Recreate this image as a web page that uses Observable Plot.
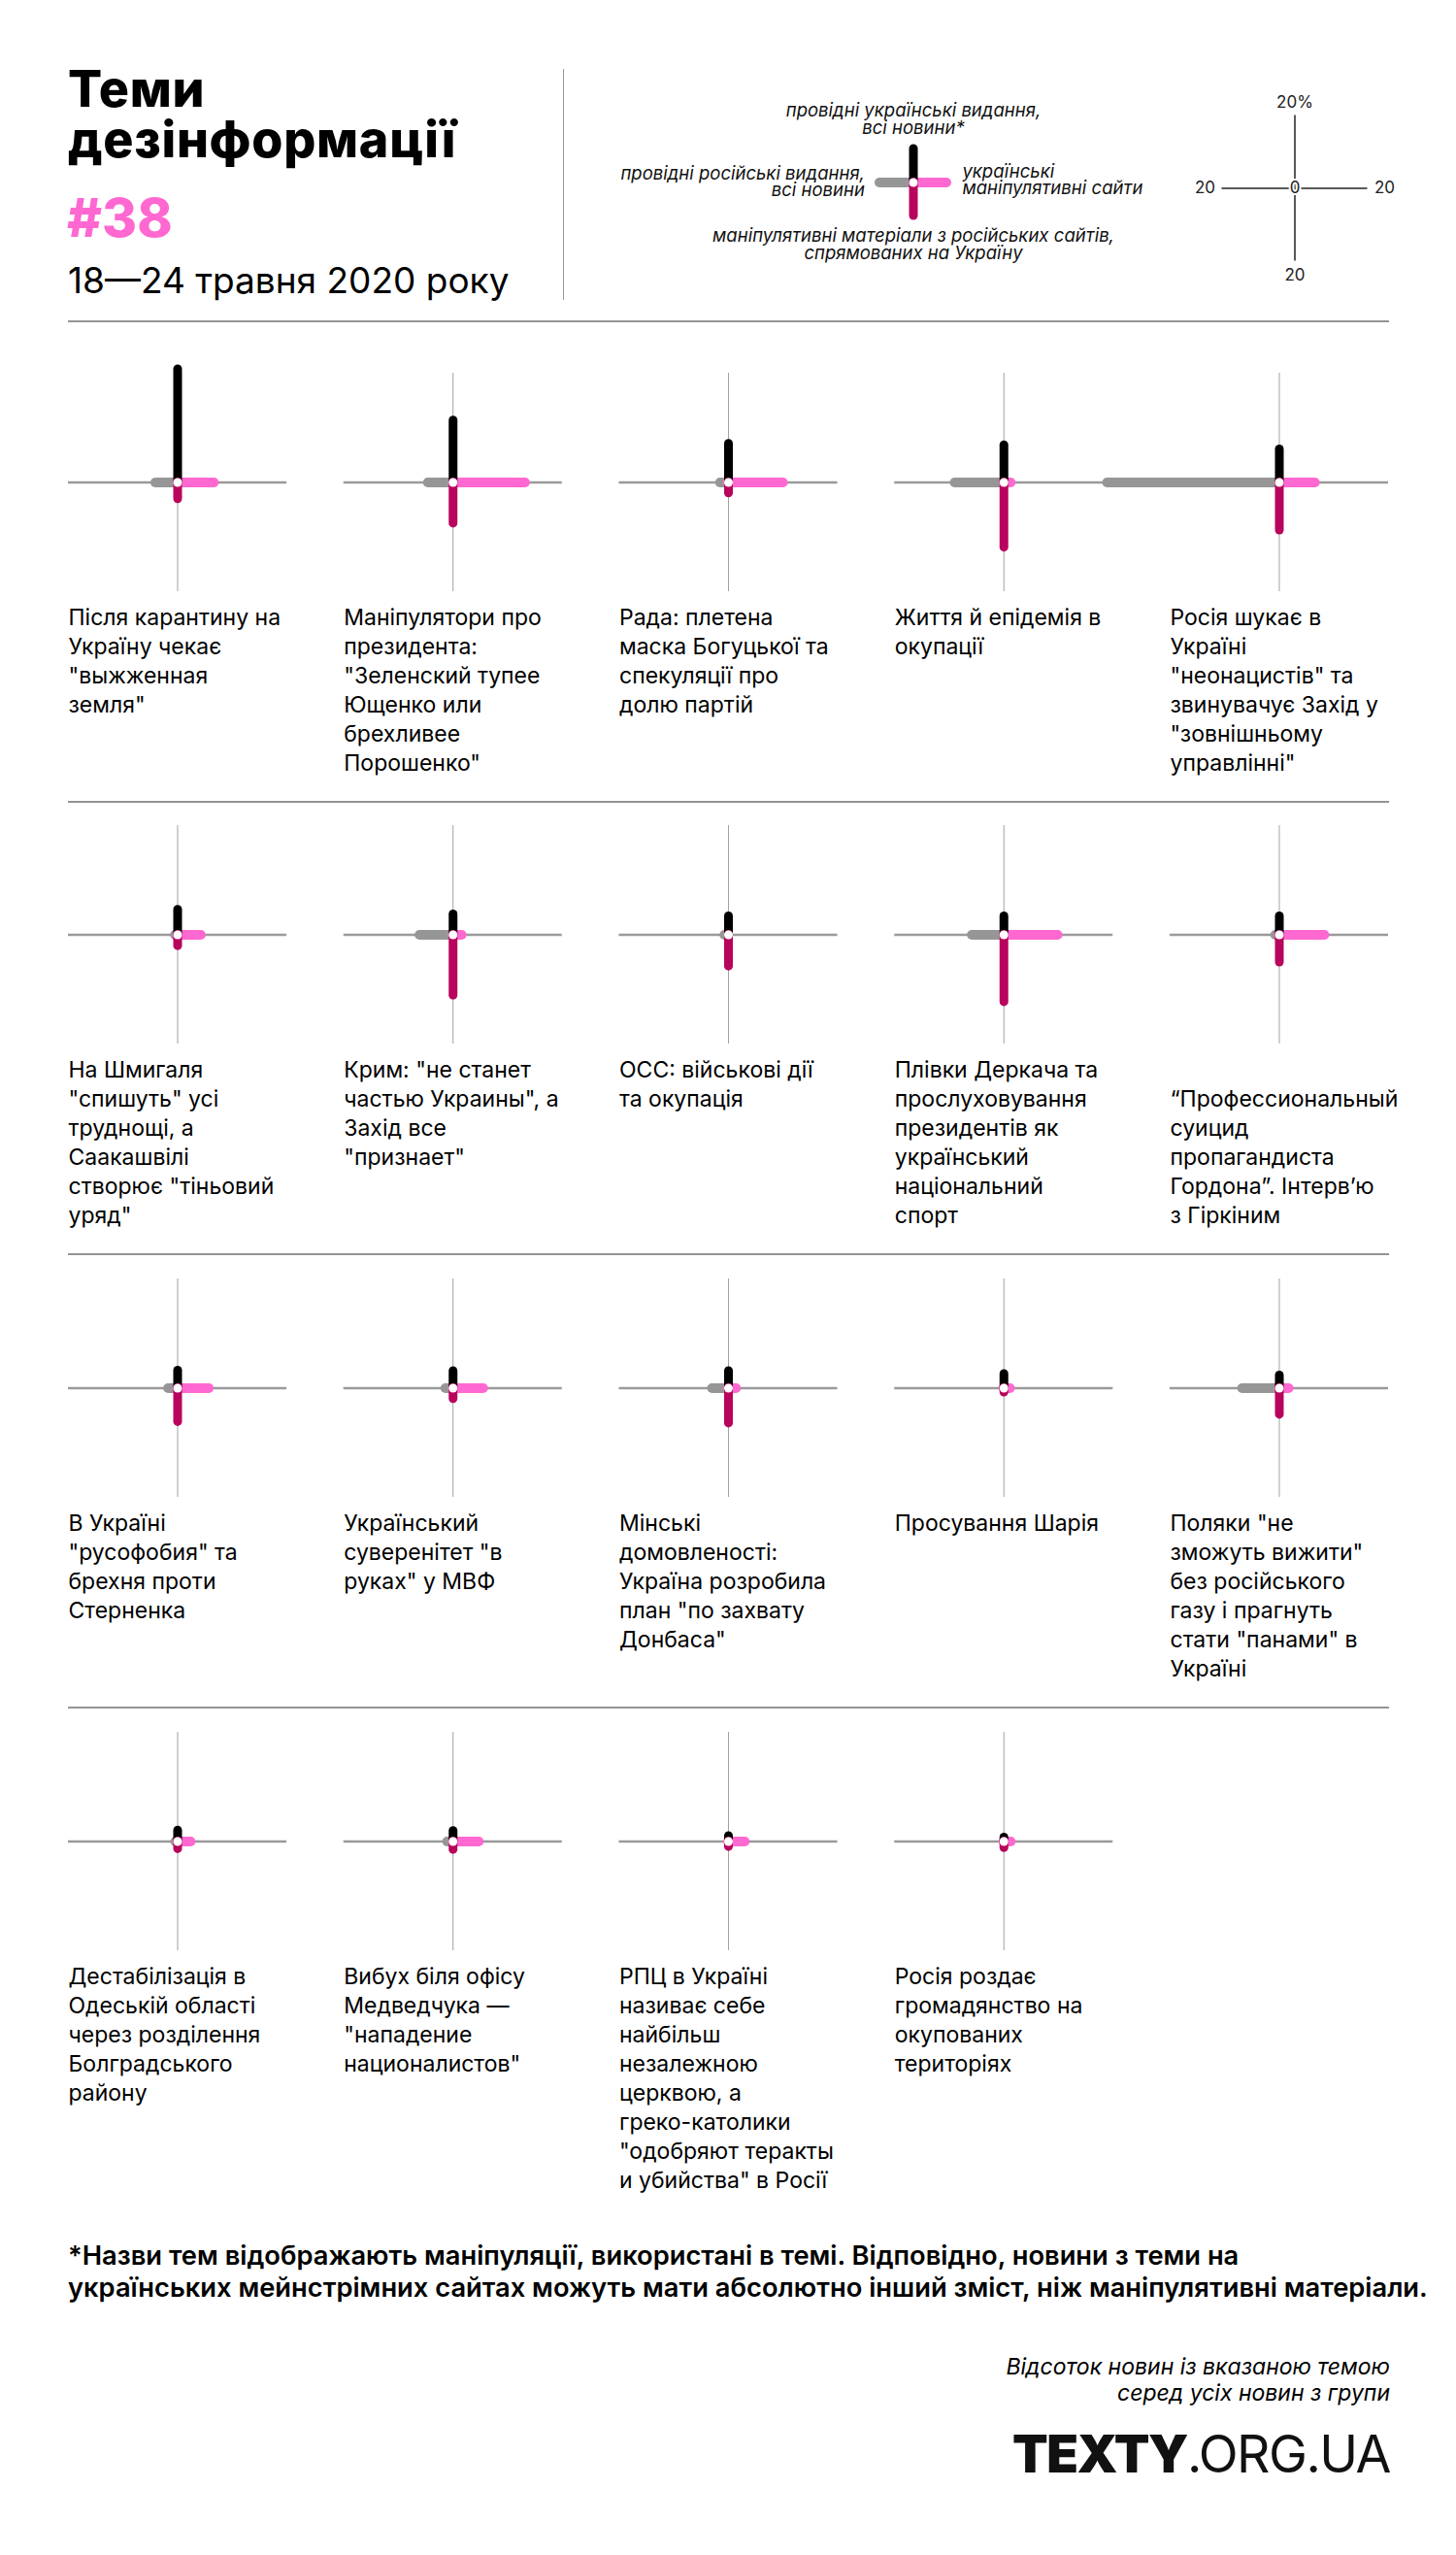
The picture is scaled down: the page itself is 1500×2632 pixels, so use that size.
<!DOCTYPE html>
<html lang="uk">
<head>
<meta charset="utf-8">
<script src="https://cdn.jsdelivr.net/npm/d3@7"></script>
<script src="https://cdn.jsdelivr.net/npm/@observablehq/plot@0.6"></script>
<style>
  html, body { margin: 0; padding: 0; background: #fff; }
  #page { position: relative; width: 1500px; height: 2632px; font-family: Inter, "Noto Sans", sans-serif; color: #000; overflow: hidden; }
  .abs { position: absolute; }
  .title { left: 70px; font-size: 52px; line-height: 52px; height: 52px; font-weight: 800; letter-spacing: 0.7px; white-space: nowrap; }
  .num { left: 69px; top: 196.5px; font-size: 55px; line-height: 55px; font-weight: 800; color: #ff68d0; }
  .date { left: 70px; top: 270px; font-size: 37px; line-height: 37px; font-weight: 400; white-space: nowrap; }
  .vsep { left: 580px; top: 71px; width: 1px; height: 238px; background: #999; }
  .rule { left: 70px; width: 1361px; height: 2px; background: #949494; }
  .foot { left: 70px; top: 2306.5px; font-size: 27.3px; line-height: 33px; font-weight: 600; white-space: nowrap; }
  .cap { right: 68px; top: 2425px; font-size: 23px; line-height: 27px; font-style: italic; text-align: right; white-space: nowrap; }
  .logo { right: 68px; top: 2501px; font-size: 53.5px; line-height: 53.5px; letter-spacing: -1.5px; white-space: nowrap; color: #111; }
  .logo b { font-weight: 900; }
  .logo span { font-weight: 400; }
</style>
</head>
<body>
<div id="page">
  <div class="abs title" style="top:65.8px">Теми</div>
  <div class="abs title" style="top:118.3px">дезінформації</div>
  <div class="abs num">#38</div>
  <div class="abs date">18—24 травня 2020 року</div>
  <div class="abs vsep"></div>
  <div class="abs" id="legendA" style="left:827.5px;top:75px;"></div>
  <div class="abs" id="legendB" style="left:1220.5px;top:80.5px;"></div>
  <div class="abs rule" style="top:330px"></div>
  <div class="abs rule" style="top:825px"></div>
  <div class="abs rule" style="top:1291px"></div>
  <div class="abs rule" style="top:1758px"></div>
  <div class="abs" id="row0" style="left:0;top:359.5px;"></div>
  <div class="abs" id="row1" style="left:0;top:826px;"></div>
  <div class="abs" id="row2" style="left:0;top:1292.5px;"></div>
  <div class="abs" id="row3" style="left:0;top:1759.5px;"></div>
  <div class="abs foot">*Назви тем відображають маніпуляції, використані в темі. Відповідно, новини з теми на<br>українських мейнстрімних сайтах можуть мати абсолютно інший зміст, ніж маніпулятивні матеріали.</div>
  <div class="abs cap">Відсоток новин із вказаною темою<br>серед усіх новин з групи</div>
  <div class="abs logo"><b>TEXTY</b><span>.ORG.UA</span></div>
</div>
<script>
// ---- DATA ----
const topics = [
  'Після карантину на\nУкраїну чекає\n"выжженная\nземля"',
  'Маніпулятори про\nпрезидента:\n"Зеленский тупее\nЮщенко или\nбрехливее\nПорошенко"',
  'Рада: плетена\nмаска Богуцької та\nспекуляції про\nдолю партій',
  'Життя й епідемія в\nокупації',
  'Росія шукає в\nУкраїні\n"неонацистів" та\nзвинувачує Захід у\n"зовнішньому\nуправлінні"',
  'На Шмигаля\n"спишуть" усі\nтруднощі, а\nСаакашвілі\nстворює "тіньовий\nуряд"',
  'Крим: "не станет\nчастью Украины", а\nЗахід все\n"признает"',
  'ОСС: військові дії\nта окупація',
  'Плівки Деркача та\nпрослуховування\nпрезидентів як\nукраїнський\nнаціональний\nспорт',
  '\n“Профессиональный\nсуицид\nпропагандиста\nГордона”. Інтерв’ю\nз Гіркіним',
  'В Україні\n"русофобия" та\nбрехня проти\nСтерненка',
  'Український\nсуверенітет "в\nруках" у МВФ',
  'Мінські\nдомовленості:\nУкраїна розробила\nплан "по захвату\nДонбаса"',
  'Просування Шарія',
  'Поляки "не\nзможуть вижити"\nбез російського\nгазу і прагнуть\nстати "панами" в\nУкраїні',
  'Дестабілізація в\nОдеській області\nчерез розділення\nБолградського\nрайону',
  'Вибух біля офісу\nМедведчука —\n"нападение\nнационалистов"',
  'РПЦ в Україні\nназиває себе\nнайбільш\nнезалежною\nцерквою, а\nгреко-католики\n"одобряют теракты\nи убийства" в Росії',
  'Росія роздає\nгромадянство на\nокупованих\nтериторіях'
];
// % of news on the topic (up): leading Ukrainian outlets, all news
const uaMainstream = [31.1, 17.0, 10.6, 10.2, 9.1, 6.9, 5.6, 5.1, 5.1, 5.1, 4.8, 4.7, 4.7, 3.9, 3.5, 3.0, 2.9, 1.5, 1.1];
// (left): leading Russian outlets, all news
const ruMainstream = [6.0, 6.8, 2.2, 13.4, 47.2, 0.6, 9.1, 1.0, 8.7, 1.0, 2.5, 2.0, 4.4, 0, 10.1, 0.5, 1.5, 0, 0];
// (right): Ukrainian manipulative sites
const uaManipulative = [10.1, 19.9, 15.1, 2.0, 9.9, 6.5, 2.5, 0, 14.9, 12.5, 8.7, 8.4, 2.2, 1.8, 2.7, 3.7, 7.2, 4.6, 2.0];
// (down): manipulative materials of Russian sites aimed at Ukraine
const ruManipulative = [4.6, 11.3, 3.0, 17.9, 13.2, 3.1, 16.7, 8.7, 18.5, 7.6, 9.3, 3.0, 9.7, 1.2, 7.3, 2.1, 2.3, 1.5, 1.8];

const legendLabels = [
  'провідні українські видання,\nвсі новини*',
  'провідні російські видання,\nвсі новини',
  'українські\nманіпулятивні сайти',
  'маніпулятивні матеріали з російських сайтів,\nспрямованих на Україну'
];
const legendValue = 9.2;
const scaleTick = 20;

// ---- STYLE ----
const BLACK = "#000000", GRAY = "#969696", PINK = "#ff68d0", MAGENTA = "#b8045c";
const AXIS_H = "#9a9a9a", AXIS_V = "#a2a2a2";
const FONT = "Inter, 'Noto Sans', sans-serif";

const data = topics.map((t, i) => ({
  topic: t, col: i % 5, row: Math.floor(i / 5),
  ua: uaMainstream[i], ru: ruMainstream[i], uaM: uaManipulative[i], ruM: ruManipulative[i]
}));

function crossMarks(rows) {
  return [
    Plot.ruleY(rows, {y: 0, x1: 0, x2: d => -d.ru, filter: d => d.ru > 0, stroke: GRAY, strokeWidth: 10, strokeLinecap: "round"}),
    Plot.ruleY(rows, {y: 0, x1: 0, x2: d => d.uaM, filter: d => d.uaM > 0, stroke: PINK, strokeWidth: 10, strokeLinecap: "round"}),
    Plot.ruleX(rows, {x: 0, y1: 0, y2: d => d.ua, filter: d => d.ua > 0, stroke: BLACK, strokeWidth: 9, strokeLinecap: "round"}),
    Plot.ruleX(rows, {x: 0, y1: 0, y2: d => -d.ruM, filter: d => d.ruM > 0, stroke: MAGENTA, strokeWidth: 9, strokeLinecap: "round"}),
    Plot.dot(rows, {x: 0, y: 0, r: 4.5, fill: "white", stroke: null})
  ];
}

function rowPlot(rows) {
  return Plot.plot({
    width: 1500, height: 510,
    marginTop: 24, marginBottom: 261, marginLeft: 70, marginRight: 70,
    facet: {data: rows, x: "col"},
    fx: {domain: [0, 1, 2, 3, 4], axis: null, paddingInner: 0.207, paddingOuter: 0, round: false},
    x: {domain: [-30, 30], axis: null},
    y: {domain: [-30, 30], axis: null},
    style: {background: "transparent", overflow: "visible", fontFamily: FONT},
    marks: [
      Plot.ruleY(rows, {y: 0, stroke: AXIS_H, strokeWidth: 2.5}),
      Plot.ruleX(rows, {x: 0, stroke: AXIS_V, strokeWidth: 1}),
      ...crossMarks(rows),
      Plot.text(rows, {x: -30, y: -30, text: "topic", textAnchor: "start", lineAnchor: "top",
        lineHeight: 30 / 23, dy: 13, fontSize: 23, fill: "#000"})
    ]
  });
}

for (let r = 0; r < 4; r++) {
  document.getElementById("row" + r).appendChild(rowPlot(data.filter(d => d.row === r)));
}

// Legend: colored cross
const legendRow = [{ua: legendValue, ru: legendValue, uaM: legendValue, ruM: legendValue}];
const lfs = 18.5, llh = 0.95;
document.getElementById("legendA").appendChild(Plot.plot({
  width: 225, height: 225, margin: 0,
  x: {domain: [-30, 30], axis: null},
  y: {domain: [-30, 30], axis: null},
  style: {background: "transparent", overflow: "visible", fontFamily: FONT},
  marks: [
    ...crossMarks(legendRow),
    Plot.text([legendLabels[0]], {x: 0, y: legendValue, text: d => d, lineAnchor: "bottom", textAnchor: "middle", dy: -16, fontSize: lfs, lineHeight: llh, fontStyle: "italic", fill: "#111"}),
    Plot.text([legendLabels[1]], {x: -legendValue, y: 0, text: d => d, lineAnchor: "middle", textAnchor: "end", dx: -15.6, dy: 0, fontSize: lfs, lineHeight: llh, fontStyle: "italic", fill: "#111"}),
    Plot.text([legendLabels[2]], {x: legendValue, y: 0, text: d => d, lineAnchor: "middle", textAnchor: "start", dx: 15.9, dy: -2, fontSize: lfs, lineHeight: llh, fontStyle: "italic", fill: "#111"}),
    Plot.text([legendLabels[3]], {x: 0, y: -legendValue, text: d => d, lineAnchor: "top", textAnchor: "middle", dy: 14, fontSize: lfs, lineHeight: llh, fontStyle: "italic", fill: "#111"})
  ]
}));

// Legend: scale cross
document.getElementById("legendB").appendChild(Plot.plot({
  width: 225, height: 225, margin: 0,
  x: {domain: [-30, 30], axis: null},
  y: {domain: [-30, 30], axis: null},
  style: {background: "transparent", overflow: "visible", fontFamily: FONT},
  marks: [
    Plot.ruleY([0], {x1: -scaleTick, x2: scaleTick, stroke: "#222", strokeWidth: 1.5}),
    Plot.ruleX([0], {y1: -scaleTick, y2: scaleTick, stroke: "#222", strokeWidth: 1.5}),
    Plot.text([scaleTick], {x: 0, y: d => d, text: d => d + "%", lineAnchor: "bottom", dy: -8, fontSize: 17, fill: "#222"}),
    Plot.text([scaleTick], {x: 0, y: d => -d, text: d => String(d), lineAnchor: "top", dy: 8, fontSize: 17, fill: "#222"}),
    Plot.text([scaleTick], {x: d => -d, y: 0, text: d => String(d), textAnchor: "end", dx: -7, fontSize: 17, fill: "#222"}),
    Plot.text([scaleTick], {x: d => d, y: 0, text: d => String(d), textAnchor: "start", dx: 7, fontSize: 17, fill: "#222"}),
    Plot.text([0], {x: 0, y: 0, text: d => String(d), fontSize: 17, fill: "#222", stroke: "white", strokeWidth: 4, paintOrder: "stroke"})
  ]
}));
</script>
</body>
</html>
